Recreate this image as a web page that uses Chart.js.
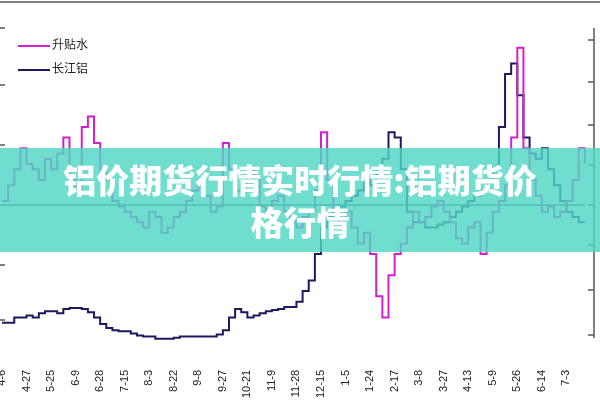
<!DOCTYPE html>
<html>
<head>
<meta charset="utf-8">
<script src="https://cdn.jsdelivr.net/npm/chart.js@4.4.0/dist/chart.umd.min.js"></script>
<style>
  body { margin: 0; background: #fff; }
  #wrap { position: relative; width: 600px; height: 400px; }
  .legend { position: absolute; left: 18px; font: 12px "Noto Sans CJK SC", sans-serif; color: #222; }
  .legend i { display: inline-block; width: 32px; height: 2px; vertical-align: middle; margin-right: 2px; }
  #banner { position: absolute; left: 0; top: 148px; width: 600px; height: 104px;
    background: rgba(80, 215, 195, 0.82); color: #fff; text-align: center;
    font: 900 33px "Noto Sans CJK SC", sans-serif; line-height: 42px; padding-top: 10px; box-sizing: border-box; }
</style>
</head>
<body>
<div id="wrap">
  <canvas id="c" width="600" height="400"></canvas>
  <div class="legend" style="top:35px"><i style="background:#d41fd0"></i>升贴水</div>
  <div class="legend" style="top:59px"><i style="background:#1a1a5e"></i>长江铝</div>
  <div id="banner">铝价期货行情实时行情:铝期货价<br>格行情</div>
</div>
<script>
// tick labels every 4 points
const tickLabels = ["4-6", "4-27", "5-25", "6-9", "6-28", "7-15", "8-3", "8-22", "9-8", "9-27",
  "10-21", "11-9", "11-28", "12-15", "1-5", "1-24", "2-17", "3-8", "3-27", "4-13",
  "5-9", "5-26", "6-14", "7-3"];

// depth-style readings (axis reversed, 0 = top)
const premium = [190,175,160,140,155,160,170,150,160,145,130,170,180,120,110,135,160,170,190,195,
  200,205,210,215,200,205,220,215,205,200,190,180,175,185,200,195,135,160,180,175,
  160,170,195,200,190,185,200,210,215,205,200,180,125,170,200,210,200,215,230,220,
  240,280,300,260,240,230,215,200,210,205,195,190,200,210,225,230,215,210,240,220,
  200,190,175,130,45,140,170,185,200,195,205,200,190,170,140,155];
const changjiang = [305,305,300,300,298,300,296,294,294,296,292,291,291,292,295,300,306,310,312,313,
  313,315,317,318,318,320,320,320,319,318,318,318,318,318,318,316,312,300,292,295,
  300,298,296,294,293,292,290,290,285,275,265,240,215,205,200,195,190,185,180,170,
  175,165,150,125,130,160,200,210,210,215,215,212,210,205,200,195,190,185,180,170,
  160,120,70,60,90,130,145,150,140,160,175,190,200,205,210,210];

const labels = premium.map((_, i) => (i % 4 === 0 ? tickLabels[i / 4] : ""));

const frame = {
  id: "frame",
  afterDraw(chart) {
    const ctx = chart.ctx;
    const a = chart.chartArea;
    ctx.save();
    ctx.strokeStyle = "#555";
    ctx.lineWidth = 1.5;
    ctx.beginPath();
    ctx.moveTo(0, 2); ctx.lineTo(600, 2);
    // zero line
    ctx.moveTo(a.left, 205); ctx.lineTo(a.right, 205);
    [28, 85, 145, 205, 265, 320].forEach((y) => { ctx.moveTo(0, y); ctx.lineTo(5, y); });
    [40, 82, 125, 165, 205, 245, 290, 335].forEach((y) => { ctx.moveTo(588, y); ctx.lineTo(594, y); });
    ctx.moveTo(594, 28); ctx.lineTo(594, 338);
    ctx.stroke();
    ctx.restore();
  },
};

new Chart(document.getElementById("c"), {
  type: "line",
  data: {
    labels,
    datasets: [
      { label: "升贴水", data: premium, borderColor: "#d41fd0", borderWidth: 2, pointRadius: 0, stepped: true },
      { label: "长江铝", data: changjiang, borderColor: "#1a1a5e", borderWidth: 2, pointRadius: 0, stepped: true },
    ],
  },
  options: {
    responsive: false,
    animation: false,
    layout: { padding: { left: 0, right: 10, top: 0, bottom: 0 } },
    plugins: { legend: { display: false }, tooltip: { enabled: false } },
    scales: {
      x: {
        offset: false,
        grid: { display: false },
        border: { display: false },
        ticks: { autoSkip: false, maxRotation: 90, minRotation: 90, color: "#222",
          font: { size: 11, family: "Liberation Sans" }, padding: 2 },
      },
      y: { display: false, reverse: true, min: 0, max: 340 },
    },
  },
  plugins: [frame],
});
</script>
</body>
</html>
